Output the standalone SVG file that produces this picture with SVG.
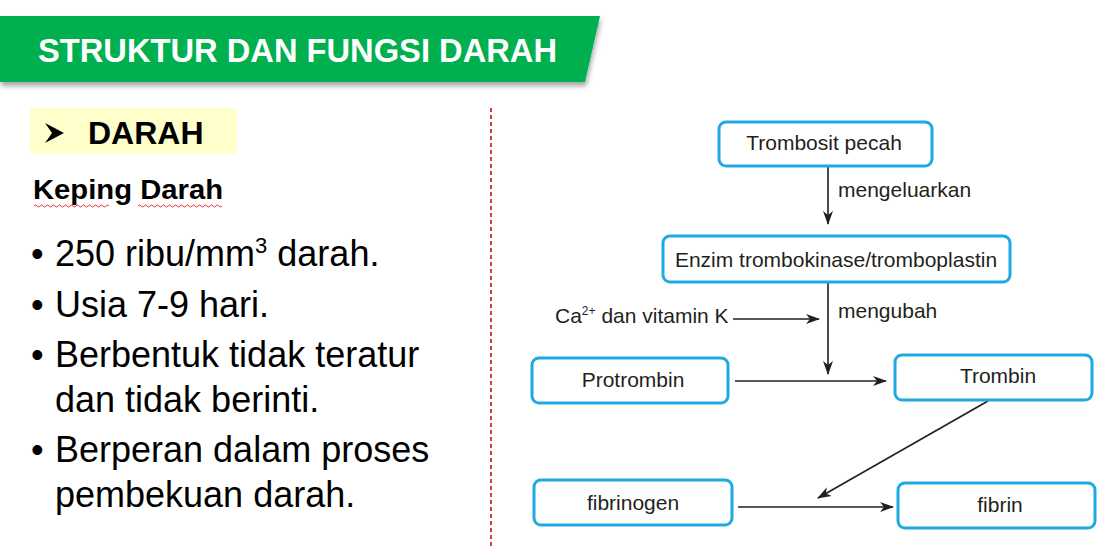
<svg xmlns="http://www.w3.org/2000/svg" width="1113" height="546" viewBox="0 0 1113 546">
  <style>
    .title { font-family: "Liberation Sans", Arial, sans-serif; font-weight: bold; font-size: 34px; fill: #ffffff; }
    .body { font-family: "Liberation Sans", Arial, sans-serif; font-size: 36px; fill: #000000; }
    .flow { font-family: "Liberation Sans", Arial, sans-serif; font-size: 21px; fill: #231f20; }
    .box { fill: #ffffff; stroke: #1fa9e1; stroke-width: 3; }
    .line { stroke: #231f20; stroke-width: 1.6; fill: none; }
    .wavy { fill: none; stroke: #e02020; stroke-width: 0.9; }
  </style>
  <defs>
    <marker id="arrow" viewBox="0 0 14 10" refX="13" refY="5" markerWidth="14" markerHeight="10" markerUnits="userSpaceOnUse" orient="auto">
      <path d="M0,0 L14,5 L0,10 L4,5 Z" fill="#231f20"/>
    </marker>
    <filter id="shadow" x="-5%" y="-20%" width="110%" height="160%">
      <feDropShadow dx="1" dy="4" stdDeviation="2.5" flood-color="#000" flood-opacity="0.35"/>
    </filter>
  </defs>

  <rect width="1113" height="546" fill="#ffffff"/>

  <!-- header band -->
  <g id="header">
    <polygon points="0,16 600,16 585,82 0,82" fill="#00b050" filter="url(#shadow)"/>
    <text class="title" x="38" y="62" textLength="519" lengthAdjust="spacingAndGlyphs">STRUKTUR DAN FUNGSI DARAH</text>
  </g>

  <!-- left column -->
  <g id="left-text">
    <rect x="30" y="108" width="207" height="46" fill="#ffffcc"/>
    <path d="M45,123 L64,133 L45,143 L52,133 Z" fill="#000000"/>
    <text x="88" y="144" style="font-family:'Liberation Sans',Arial,sans-serif;font-weight:bold;font-size:32px;fill:#000">DARAH</text>
    <text x="33" y="199" textLength="190" lengthAdjust="spacingAndGlyphs" style="font-family:'Liberation Sans',Arial,sans-serif;font-weight:bold;font-size:27px;fill:#000">Keping Darah</text>
    <path class="wavy" d="M34,206 q1.5,-2 3,0 t3,0 t3,0 t3,0 t3,0 t3,0 t3,0 t3,0 t3,0 t3,0 t3,0 t3,0 t3,0 t3,0 t3,0 t3,0 t3,0 t3,0 t3,0 t3,0 t3,0 t3,0 t3,0 t3,0 t3,0"/>
    <path class="wavy" d="M138,206 q1.5,-2 3,0 t3,0 t3,0 t3,0 t3,0 t3,0 t3,0 t3,0 t3,0 t3,0 t3,0 t3,0 t3,0 t3,0 t3,0 t3,0 t3,0 t3,0 t3,0 t3,0 t3,0 t3,0 t3,0 t3,0 t3,0 t3,0 t3,0 t3,0"/>

    <text class="body" x="31" y="266">•</text>
    <text class="body" x="55" y="266">250 ribu/mm<tspan dy="-13" font-size="22">3</tspan><tspan dy="13"> darah.</tspan></text>
    <text class="body" x="31" y="317">•</text>
    <text class="body" x="55" y="317">Usia 7-9 hari.</text>
    <text class="body" x="31" y="367">•</text>
    <text class="body" x="55" y="367">Berbentuk tidak teratur</text>
    <text class="body" x="55" y="412">dan tidak berinti.</text>
    <text class="body" x="31" y="462">•</text>
    <text class="body" x="55" y="462">Berperan dalam proses</text>
    <text class="body" x="55" y="507">pembekuan darah.</text>
  </g>

  <!-- divider -->
  <line x1="491" y1="108" x2="491" y2="546" stroke="#c00000" stroke-width="1.5" stroke-dasharray="4,3"/>

  <!-- connectors -->
  <g id="connectors">
    <line class="line" x1="828" y1="167" x2="828" y2="224" marker-end="url(#arrow)"/>
    <line class="line" x1="828" y1="283" x2="828" y2="374" marker-end="url(#arrow)"/>
    <line class="line" x1="733" y1="319" x2="819" y2="319" marker-end="url(#arrow)"/>
    <line class="line" x1="735" y1="381" x2="886" y2="381" marker-end="url(#arrow)"/>
    <line class="line" x1="988" y1="401" x2="818" y2="498" marker-end="url(#arrow)" stroke-width="1.2"/>
    <line class="line" x1="738" y1="507" x2="893" y2="507" marker-end="url(#arrow)"/>
  </g>

  <g id="label-mengeluarkan"><text class="flow" x="838" y="197">mengeluarkan</text></g>
  <g id="label-mengubah"><text class="flow" x="838" y="318">mengubah</text></g>
  <g id="label-ca"><text class="flow" x="555" y="323">Ca<tspan dy="-8" font-size="12">2+</tspan><tspan dy="8"> dan vitamin K</tspan></text></g>

  <g id="node-trombosit">
    <rect class="box" x="719" y="122" width="213" height="44" rx="7"/>
    <text class="flow" x="824" y="150" text-anchor="middle">Trombosit pecah</text>
  </g>
  <g id="node-enzim">
    <rect class="box" x="663" y="236" width="347" height="46" rx="7"/>
    <text class="flow" x="836" y="267" text-anchor="middle">Enzim trombokinase/tromboplastin</text>
  </g>
  <g id="node-protrombin">
    <rect class="box" x="532" y="358" width="196" height="45" rx="7"/>
    <text class="flow" x="633" y="387" text-anchor="middle">Protrombin</text>
  </g>
  <g id="node-trombin">
    <rect class="box" x="895" y="355" width="197" height="45" rx="7"/>
    <text class="flow" x="998" y="383" text-anchor="middle">Trombin</text>
  </g>
  <g id="node-fibrinogen">
    <rect class="box" x="534" y="480" width="198" height="45" rx="7"/>
    <text class="flow" x="633" y="510" text-anchor="middle">fibrinogen</text>
  </g>
  <g id="node-fibrin">
    <rect class="box" x="898" y="483" width="197" height="45" rx="7"/>
    <text class="flow" x="1000" y="512" text-anchor="middle">fibrin</text>
  </g>
</svg>
